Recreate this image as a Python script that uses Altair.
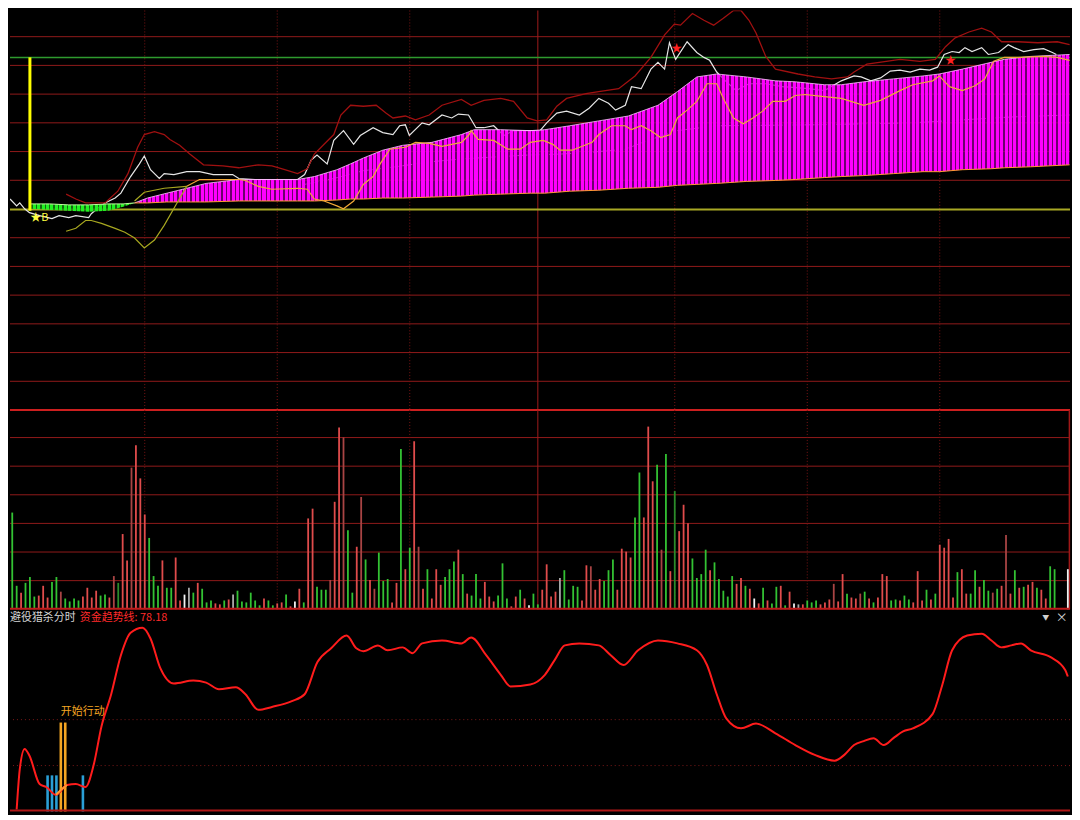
import altair as alt
import pandas as pd

# ------------------------------------------------------------------
# time: minute index t (0 = 9:30 ... 239 = 15:00)
# ------------------------------------------------------------------
time_dotted = [30, 60, 90, 150, 180, 210]
time_noon = [119]

# ------------------------------------------------------------------
# price panel (level units)
# ------------------------------------------------------------------
grid_levels = [29.4, 58.8, 88.2, 117.6, 147.0, 176.4, 235.2, 264.6, 294.0, 323.4, 352.8, 382.2]
green_level = [361]
olive_level = [205.3]

white_line = [(-0.5,216),(1.0,209),(1.7,212),(2.8,206),(3.9,202),(6.2,199),(9.0,196),(10.6,199),(12.8,197),(14.4,199),
              (17.3,197),(17.9,201),(19.5,207),(21.0,212),(23.3,217),(24.6,222),(26.8,239),(28.8,252),(29.9,260),(31.3,246),
              (33.3,237),(34.4,242),(36.6,241),(39.5,244),(42.4,244),(45.5,241),(49.9,241),(51.3,237),(55.0,236),(62.4,236),
              (64.6,236),(66.2,241),(67.7,256),(69.0,261),(71.3,252),(72.8,276),(75.0,286),(77.3,272),(78.8,281),(81.7,289),
              (83.9,284),(86.2,282),(87.7,291),(89.0,292),(89.9,281),(92.8,294),(94.4,292),(97.3,302),(99.5,299),(101.0,303),
              (103.3,302),(105.0,289),(106.8,289),(109.0,291),(111.3,281),(113.5,286),(116.6,286),(119.5,286),(121.0,294),(123.3,304),
              (125.5,306),(128.4,302),(130.6,309),(132.8,319),(135.0,314),(136.6,307),(138.8,312),(140.2,331),(142.4,329),(144.6,349),
              (146.2,356),(147.7,349),(148.8,376),(150.2,359),(152.8,377),(155.0,366),(156.6,361),(157.9,358),(159.5,346),(161.7,336),
              (163.9,327),(166.8,334),(170.6,334),(174.4,331),(180.2,329),(183.9,327),(187.7,337),(190.6,342),(192.2,341),(194.4,337),
              (196.6,340),(198.8,347),(201.0,348),(203.3,346),(205.5,349),(207.7,348),(209.5,351),(211.0,364),(212.8,367),(214.4,366),
              (215.7,371),(217.3,367),(219.5,371),(221.0,364),(223.3,366),(225.5,374),(226.8,371),(229.0,367),(231.3,369),(233.5,370),
              (235.5,366),(236.4,364)]

red_band = [(12.2,221),(14.4,216),(16.6,212),(21.0,212),(23.9,224),(26.2,242),(28.4,269),(29.9,282),(32.2,285),(34.4,282),
            (35.7,277),(37.9,271),(40.2,262),(43.3,251),(47.7,250),(51.3,248),(55.7,251),(58.8,250),(61.7,246),(64.6,242),
            (66.8,247),(68.4,262),(70.6,272),(72.8,282),(74.4,302),(76.6,312),(79.5,311),(82.4,312),(84.6,304),(86.2,299),
            (89.0,301),(91.3,297),(94.4,302),(97.3,312),(101.7,318),(103.9,312),(106.8,317),(110.6,319),(113.5,316),(116.6,299),
            (118.8,296),(121.0,297),(123.3,311),(125.5,319),(129.9,324),(132.8,326),(137.3,329),(141.0,342),(144.6,361),(147.7,384),
            (149.9,395),(151.3,394),(154.0,406),(156.6,399),(158.8,394),(161.0,401),(163.3,409),(165.0,409),(166.8,399),(168.4,386),
            (170.6,362),(172.8,349),(177.9,344),(181.7,341),(185.5,339),(189.1,341),(190.6,346),(193.5,354),(197.9,357),(201.0,359),
            (205.5,357),(209.0,359),(211.3,372),(213.5,381),(216.6,387),(219.5,391),(221.7,387),(224.0,377),(227.7,377),(232.2,376),
            (236.6,377),(239.4,374)]

ma_left = [(12.2,183),(14.4,186),(16.6,194),(17.9,194),(20.2,191),(23.3,186),(25.5,182),(27.7,176),(29.9,166),(32.2,174),
           (34.4,189),(37.3,212),(39.5,229)]
ma_right = [(39.5,229),(42.4,236),(47.7,236),(51.3,236),(52.8,235),(55.7,229),(58.8,226),(64.6,227),(66.8,226),(68.4,216),
            (70.6,214),(73.5,209),(75.0,206),(77.3,214),(79.5,231),(81.7,239),(83.3,252),(85.5,267),(89.0,269),(91.3,274),
            (94.4,273),(97.3,270),(101.7,274),(103.3,281),(103.9,286),(105.5,277),(109.0,276),(112.2,267),(115.0,267),(117.3,274),
            (120.2,276),(122.4,272),(124.0,266),(126.8,266),(131.3,274),(132.8,282),(135.7,291),(138.8,291),(140.2,287),(142.4,291),
            (144.6,286),(146.8,279),(149.0,282),(150.6,299),(152.8,307),(155.0,316),(157.3,334),(159.5,334),(161.0,319),(163.3,299),
            (165.5,293),(167.7,299),(169.9,306),(172.2,316),(175.0,316),(177.3,322),(179.5,323),(183.3,321),(187.7,319),(192.8,312),
            (196.6,317),(201.0,327),(203.9,333),(208.4,337),(209.9,342),(212.2,331),(215.1,327),(218.0,332),(220.2,339),(222.2,357),
            (224.6,361),(227.7,361),(233.5,362),(236.6,361),(239.4,358)]
olive_short = [(27.7,214),(29.9,223),(34.4,227),(39.5,229)]
pink_line = [(66.2,231),(72.8,237),(79.5,245),(86.8,249),(94.4,254),(101.7,257),(109.0,259),(116.6,261),(124.0,262),
             (131.3,264),(138.8,267),(143.9,276),(150.6,286),(159.5,291),(181.7,292),(203.9,294),(226.2,300),(239.4,302)]

# (t, top, bottom) of the striped magenta / green columns
magenta = [(27.7,212,212),(30.6,217,212),(35.0,222,213),(39.5,227,213),(43.9,232,213),(51.3,236,214),(58.8,236,214),
           (64.6,236,214),(68.4,239,214),(73.5,246,215),(76.6,252,216),(79.5,258,216),(83.9,266,217),(88.4,271,217),
           (95.0,274,218),(101.7,282,219),(104.6,287,220),(110.6,287,221),(117.3,286,222),(120.6,287,222),(126.2,291,224),
           (132.8,296,225),(139.5,301,227),(146.2,312,228),(150.6,326,230),(155.0,341,231),(159.5,344,232),(166.2,341,234),
           (172.8,337,235),(177.3,336,236),(183.9,333,238),(187.7,333,239),(192.8,336,240),(199.5,339,242),(206.2,342,244),
           (209.9,344,244),(215.1,349,246),(221.7,356,247),(224.6,359,248),(230.6,362,249),(239.4,364,251)]
green_cols = [(3.9,211,206),(8.4,211,205),(12.8,210,204),(17.3,210,203),(21.7,211,204),(25.1,211,208),(27.7,212,212)]

buy_bar = [(4, 204, 361)]
buy_mark = [(4.1, 197, "★B")]
red_stars = [(150.4, 370), (212.4, 357)]

# ------------------------------------------------------------------
# volume panel
# ------------------------------------------------------------------
vol_grid = [29.3, 58.6, 87.9, 117.2, 146.5, 175.8]
vol_h = [99,24,17,27,33,13,14,24,12,28, 33,18,11,8,11,9,13,22,12,19,
         14,15,12,34,27,77,50,145,168,134, 97,73,34,24,50,22,22,53,9,15,
         22,17,27,21,7,9,6,5,9,10, 15,19,8,7,17,9,4,11,9,4,
         6,7,15,3,8,21,7,93,103,23, 20,20,30,110,186,176,81,17,64,115,
         51,30,21,58,29,31,7,27,164,41, 63,172,64,21,41,11,41,25,33,41,
         49,61,36,16,14,36,11,28,13,8, 14,47,11,3,13,20,11,4,16,5,
         20,46,13,18,32,40,10,24,23,9, 45,44,20,31,29,40,51,20,62,59,
         53,94,140,94,187,131,148,61,159,39, 121,80,107,88,52,32,36,61,40,48,
         31,19,13,34,26,32,24,21,11,6, 22,9,6,23,24,4,18,6,5,5,
         9,7,9,5,7,10,26,8,36,16, 12,11,16,18,11,7,12,36,34,9,
         10,9,14,10,7,39,9,20,10,16, 66,63,72,12,38,41,16,16,40,23,
         30,19,17,21,24,76,16,40,22,23, 25,28,22,20,11,44,41,0,0,41]
vol_c = ("ggrgggrrrg" "gdggggrrrr" "ggrdGrrdrr" "rgggrggrrw" "sgrgggrrgr" "sggggggrgg" "rrgrwrgrrg" "ggdrrdggrd"
         "grdgggrrgr" "grdrgrrrgg" "grgrgggrrr" "gggrrgrwgg" "rrrrsggggr" "rdrrgggrrr" "rggrrrgdgr" "Grrrggggrg"
         "ggggrrgrwr" "grggrgrwsr" "gggrrrdrrg" "rrdgrgrrrg" "grggrrrgrg" "rrrrgrrggr" "ggdgrdrgrg" "rrgrrggggw")

# ------------------------------------------------------------------
# indicator panel (资金趋势线)
# ------------------------------------------------------------------
trend = [(1.0,-8.7),(1.7,17.5),(2.8,30.9),(3.9,26.4),(6.2,7.9),(7.7,6.0),(9.9,0.9),(12.4,7.3),(14.4,7.9),(16.6,6.0),
         (18.4,20.0),(20.2,45.5),(22.4,66.6),(24.6,92.1),(26.8,106.8),(29.5,110.0),(31.3,103.0),(33.5,83.8),(36.6,73.6),
         (41.0,75.5),(43.9,74.2),(46.8,69.8),(50.6,71.1),(52.8,66.6),(55.7,56.4),(58.8,58.3),(63.3,62.1),(66.2,66.6),
         (69.1,87.6),(72.2,96.6),(75.7,104.9),(77.9,96.6),(79.5,94.7),(82.8,98.5),(85.0,95.3),(88.4,97.2),(90.6,93.4),
         (92.8,99.8),(97.3,101.7),(101.7,99.8),(103.9,103.6),(107.3,92.1),(110.6,79.3),(112.8,71.7),(117.3,73.0),
         (120.6,79.3),(122.8,88.9),(125.1,98.5),(128.4,99.8),(132.8,98.5),(135.5,92.1),(138.4,85.7),(141.7,95.3),
         (146.2,101.7),(150.6,99.8),(155.0,95.3),(157.3,85.7),(159.5,66.6),(161.7,50.6),(165.0,44.3),(168.4,47.4),
         (172.8,41.1),(177.3,33.4),(181.7,27.0),(186.2,23.2),(188.4,27.0),(190.6,33.4),(192.8,36.0),(195.0,37.9),
         (197.3,33.4),(199.5,37.9),(201.7,42.3),(203.9,44.3),(208.4,53.8),(210.6,73.0),(212.8,95.3),(216.2,104.9),
         (219.5,106.1),(221.7,101.7),(223.9,97.2),(226.2,98.5),(228.4,99.8),(230.6,95.3),(235.1,90.8),(238.4,82.5),
         (239.0,78.18)]
trend_orange = [(9.9,0.9),(11.0,4.0),(12.4,7.3)]
ind_grid = [20, 50]
blue_bars = [(8,13.6),(9,13.6),(10,13.6),(16,13.6)]
orange_bars = [(11,48.1),(12,48.1)]
action_label = [(11.0, 55.0, "开始行动")]

# ------------------------------------------------------------------
# chart
# ------------------------------------------------------------------
W, H1, H2, H3 = 1064, 401, 200, 203
GRID = "#901a1a"
FONT = "Noto Sans CJK SC"

xs = alt.Scale(domain=[-0.51, 239.49], nice=False, zero=False)
s_top = alt.Scale(domain=[0, 409], nice=False, zero=False)
s_vol = alt.Scale(domain=[0, 204], nice=False, zero=False)
s_ind = alt.Scale(domain=[-10, 122.1], nice=False, zero=False)


def X(f="t"):
    return alt.X(f"{f}:Q", scale=xs, axis=None)


def Y(s, f="v"):
    return alt.Y(f"{f}:Q", scale=s, axis=None)


def pts(pairs):
    return pd.DataFrame(pairs, columns=["t", "v"])


def line(pairs, s, color, width=1.0, dash=None, interp="linear", opacity=1.0):
    kw = dict(color=color, strokeWidth=width, clip=True, interpolate=interp, opacity=opacity)
    if dash:
        kw["strokeDash"] = dash
    return alt.Chart(pts(pairs)).mark_line(**kw).encode(x=X(), y=Y(s))


def hrules(vals, s, color, width=1.0, dash=None):
    kw = dict(color=color, strokeWidth=width)
    if dash:
        kw["strokeDash"] = dash
    return alt.Chart(pd.DataFrame({"v": vals})).mark_rule(**kw).encode(y=Y(s))


def vrules(vals, color, width=1.0, dash=None):
    kw = dict(color=color, strokeWidth=width)
    if dash:
        kw["strokeDash"] = dash
    return alt.Chart(pd.DataFrame({"t": vals})).mark_rule(**kw).encode(x=X())


def stripes(t0, t1, bars, on, off, half=0.34):
    span = t1 - t0
    stops = [alt.GradientStop(offset=0, color=off)]
    for k in bars:
        a = round(min(max((k - half - t0) / span, 0), 1), 5)
        b = round(min(max((k + half - t0) / span, 0), 1), 5)
        stops += [alt.GradientStop(offset=a, color=off), alt.GradientStop(offset=a, color=on),
                  alt.GradientStop(offset=b, color=on), alt.GradientStop(offset=b, color=off)]
    stops.append(alt.GradientStop(offset=1, color=off))
    return alt.LinearGradient(gradient="linear", stops=stops, x1=0, x2=1, y1=0, y2=0)


def columns(rows, color):
    df = pd.DataFrame(rows, columns=["t", "top", "bot"])
    return alt.Chart(df).mark_area(color=color, clip=True).encode(
        x=X(), y=Y(s_top, "top"), y2=alt.Y2("bot:Q"))


mag_df = pd.DataFrame(magenta, columns=["t", "top", "bot"])
mag_grad = stripes(magenta[0][0], magenta[-1][0], range(28, 240), "#ff00ff", "rgba(150,0,150,0.72)")
grn_grad = stripes(green_cols[0][0], green_cols[-1][0], range(4, 28), "#22f022", "rgba(20,130,20,0.8)")

top_layers = [
    hrules(grid_levels, s_top, GRID),
    vrules(time_dotted, "#7a1414", 1, [1, 2]),
    vrules(time_noon, "#a01c1c", 1),
    hrules(green_level, s_top, "#2e9a2e", 1.5),
    hrules(olive_level, s_top, "#a8a824", 2.2),
    line(pink_line, s_top, "#ffb8ff", 1.0, [2, 2]),
    line(white_line, s_top, "#e6e6e6", 1.2),
    columns(magenta, mag_grad),
    columns(green_cols, grn_grad),
    alt.Chart(mag_df).mark_line(color="#ffc8ff", strokeWidth=1, opacity=0.8, clip=True).encode(x=X(), y=Y(s_top, "top")),
    alt.Chart(mag_df).mark_line(color="#ff9a30", strokeWidth=1, clip=True).encode(x=X(), y=Y(s_top, "bot")),
    alt.Chart(pd.DataFrame(green_cols, columns=["t", "top", "bot"])).mark_line(
        color="#c0ffa0", strokeWidth=1, clip=True).encode(x=X(), y=Y(s_top, "top")),
    line(olive_short, s_top, "#a8a820", 1.2),
    line(ma_left, s_top, "#a8a820", 1.2),
    line(ma_right, s_top, "#f0a838", 1.2),
    line(red_band, s_top, "#a01010", 1.3),
    alt.Chart(pd.DataFrame(buy_bar, columns=["t", "lo", "hi"])).mark_rule(color="#ffff00", strokeWidth=3).encode(
        x=X(), y=Y(s_top, "lo"), y2=alt.Y2("hi:Q")),
    alt.Chart(pd.DataFrame(buy_mark, columns=["t", "v", "label"])).mark_text(
        align="left", baseline="middle", font=FONT, fontSize=11, color="#ffff40").encode(
        x=X(), y=Y(s_top), text="label:N"),
    alt.Chart(pts(red_stars)).mark_text(
        text="★", align="center", baseline="middle", font=FONT, fontSize=11, color="#ff2020").encode(
        x=X(), y=Y(s_top)),
    hrules([0], s_top, "#cc1f1f", 2),
]
top = alt.layer(*top_layers).properties(width=W, height=H1)

vdf = pd.DataFrame([(i, h, c) for i, (h, c) in enumerate(zip(vol_h, vol_c))], columns=["t", "v", "c"])
vol_layers = [
    hrules(vol_grid, s_vol, GRID),
    vrules(time_dotted, "#7a1414", 1, [1, 2]),
    vrules(time_noon, "#a01c1c", 1),
    vrules([239.35], "#a01818", 1.5),
    alt.Chart(vdf).mark_rule(strokeWidth=1.8).encode(
        x=X(), y=Y(s_vol), y2=alt.datum(0),
        color=alt.Color("c:N", legend=None, scale=alt.Scale(
            domain=["r", "d", "g", "G", "w", "s"],
            range=["#e04c4c", "#a84444", "#33c233", "#2a8c2a", "#f2f2f2", "#aaaaaa"]))),
    hrules([0.5], s_vol, "#c01a1a", 2),
]
vol = alt.layer(*vol_layers).properties(width=W, height=H2)

title_df = pd.DataFrame([(-0.5, 116.4, "避役猎杀分时")], columns=["t", "v", "label"])
value_df = pd.DataFrame([(15.3, 116.4, f"资金趋势线: {trend[-1][1]:.2f}")], columns=["t", "v", "label"])
icons_df = pd.DataFrame([(234.0, 116.4, "▼", 7), (237.6, 116.4, "×", 12)], columns=["t", "v", "label", "size"])

ind_layers = [
    hrules(ind_grid, s_ind, "#7a1818", 1, [1, 3]),
    alt.Chart(pts(blue_bars)).mark_rule(color="#2a9fd6", strokeWidth=2.6).encode(
        x=X(), y=Y(s_ind), y2=alt.datum(-10)),
    alt.Chart(pts(orange_bars)).mark_rule(color="#f5a623", strokeWidth=2.6).encode(
        x=X(), y=Y(s_ind), y2=alt.datum(-10)),
    line(trend, s_ind, "#ff1c1c", 2.0, interp="monotone"),
    line(trend_orange, s_ind, "#ff9a30", 2.0, interp="monotone"),
    alt.Chart(pd.DataFrame(action_label, columns=["t", "v", "label"])).mark_text(
        align="left", baseline="middle", font=FONT, fontSize=11, color="#f5a623").encode(
        x=X(), y=Y(s_ind), text="label:N"),
    alt.Chart(title_df).mark_text(align="left", baseline="middle", font=FONT, fontSize=11, color="#d6d6d6").encode(
        x=X(), y=Y(s_ind), text="label:N"),
    alt.Chart(value_df).mark_text(align="left", baseline="middle", font=FONT, fontSize=11, color="#ff2a2a").encode(
        x=X(), y=Y(s_ind), text="label:N"),
    alt.Chart(icons_df).mark_text(align="center", baseline="middle", font=FONT, color="#d0d0d0").encode(
        x=X(), y=Y(s_ind), text="label:N", size=alt.Size("size:Q", scale=None, legend=None)),
    hrules([-9.3], s_ind, "#b01818", 2),
]
ind = alt.layer(*ind_layers).properties(width=W, height=H3)

chart = alt.vconcat(top, vol, ind, spacing=0, bounds="flush").properties(
    background="#000000", padding=0
).configure_view(stroke=None)

chart.save("out.html", embed_options={"renderer": "svg", "actions": False})
